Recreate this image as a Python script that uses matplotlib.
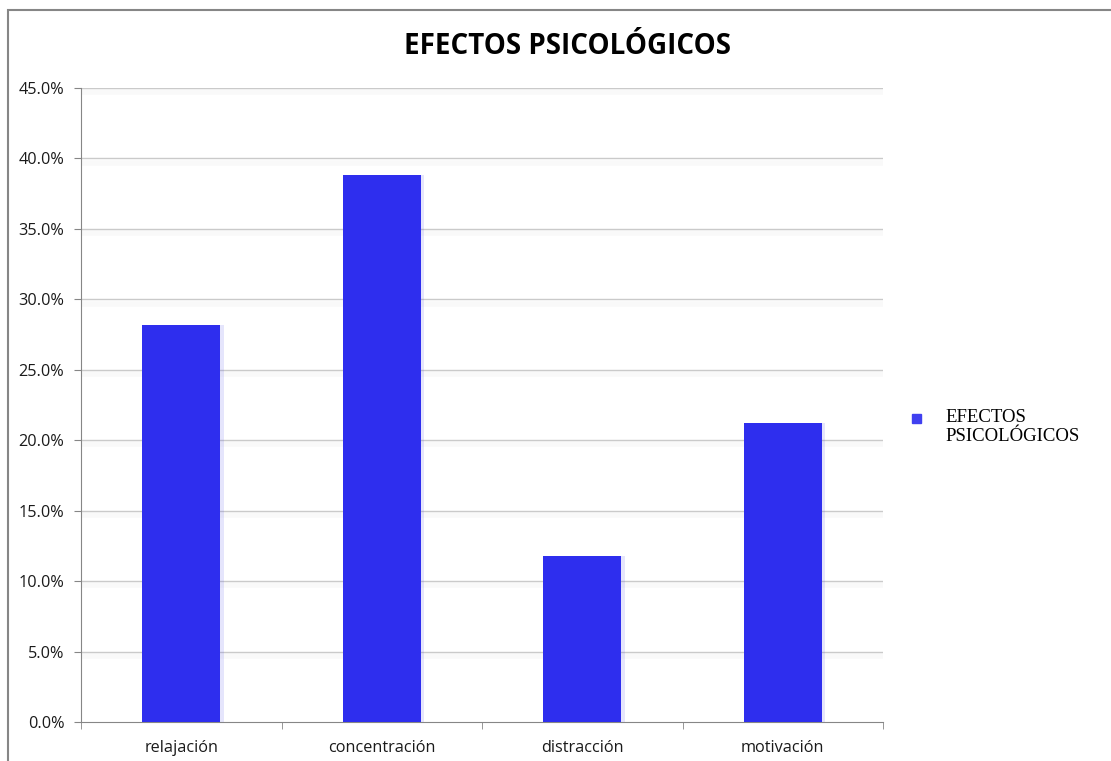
import matplotlib.pyplot as plt
import matplotlib.patheffects as pe
from matplotlib.patches import Rectangle
from matplotlib.ticker import FuncFormatter, MultipleLocator

categorias = ['relajación', 'concentración', 'distracción', 'motivación']
porcentajes = [28.2, 38.8, 11.8, 21.2]
serie = 'EFECTOS PSICOLÓGICOS'

W, H = 1111, 761
fig = plt.figure(figsize=(W / 100, H / 100), dpi=100)
ax = fig.add_axes([81 / W, 1 - 722 / H, (883 - 81) / W, (722 - 88) / H])

# marco gris del gráfico
fig.patches.append(Rectangle((8 / W, -0.05), 1.2, 1 - 10 / H + 0.05,
                             transform=fig.transFigure, fill=False,
                             edgecolor='#868686', linewidth=1.5))

sombra = [pe.SimpleLineShadow(offset=(2, -3), shadow_color='#000000', alpha=0.025, linewidth=4),
          pe.Normal()]
for v in range(5, 50, 5):
    ax.axhline(v, color='#cacaca', linewidth=1, zorder=1, path_effects=sombra)

x = range(len(categorias))
barras = ax.bar(x, porcentajes, width=0.39, color='#2e2eee', zorder=3, label=serie)
for b in barras:
    b.set_path_effects([pe.SimplePatchShadow(offset=(2.5, 0), shadow_rgbFace='#2e2eee', alpha=0.12),
                        pe.Normal()])

ax.set_xlim(-0.5, 3.5)
ax.set_ylim(0, 45)
ax.yaxis.set_major_locator(MultipleLocator(5))
ax.yaxis.set_major_formatter(FuncFormatter(lambda v, p: f'{v:.1f}%'))
ax.set_xticks([0, 1, 2, 3])
ax.set_xticklabels(categorias)
ax.set_xticks([-0.5, 0.5, 1.5, 2.5, 3.5], minor=True)
ax.tick_params(axis='x', which='major', length=0, pad=13)
ax.tick_params(axis='x', which='minor', length=5, color='#868686')
ax.tick_params(axis='y', length=5, color='#868686', pad=7)
for lab in ax.get_xticklabels() + ax.get_yticklabels():
    lab.set_fontfamily('Open Sans')
    lab.set_fontsize(11.7)
    lab.set_color('#1a1a1a')

for s in ['top', 'right']:
    ax.spines[s].set_visible(False)
for s in ['left', 'bottom']:
    ax.spines[s].set_color('#868686')

fig.text(567 / W, 1 - 47 / H, serie, ha='center', va='center',
         fontsize=20, fontweight='bold', fontfamily='Open Sans')

# leyenda a la derecha
fig.patches.append(Rectangle((912 / W, 1 - 423 / H), 9 / W, 9 / H,
                             transform=fig.transFigure, color='#4040f0'))
fig.text(945 / W, 1 - 427 / H, 'EFECTOS\nPSICOLÓGICOS', ha='left', va='center',
         fontsize=13.5, fontfamily='Liberation Serif', linespacing=1.2)

fig.savefig('out.png', dpi=100)
